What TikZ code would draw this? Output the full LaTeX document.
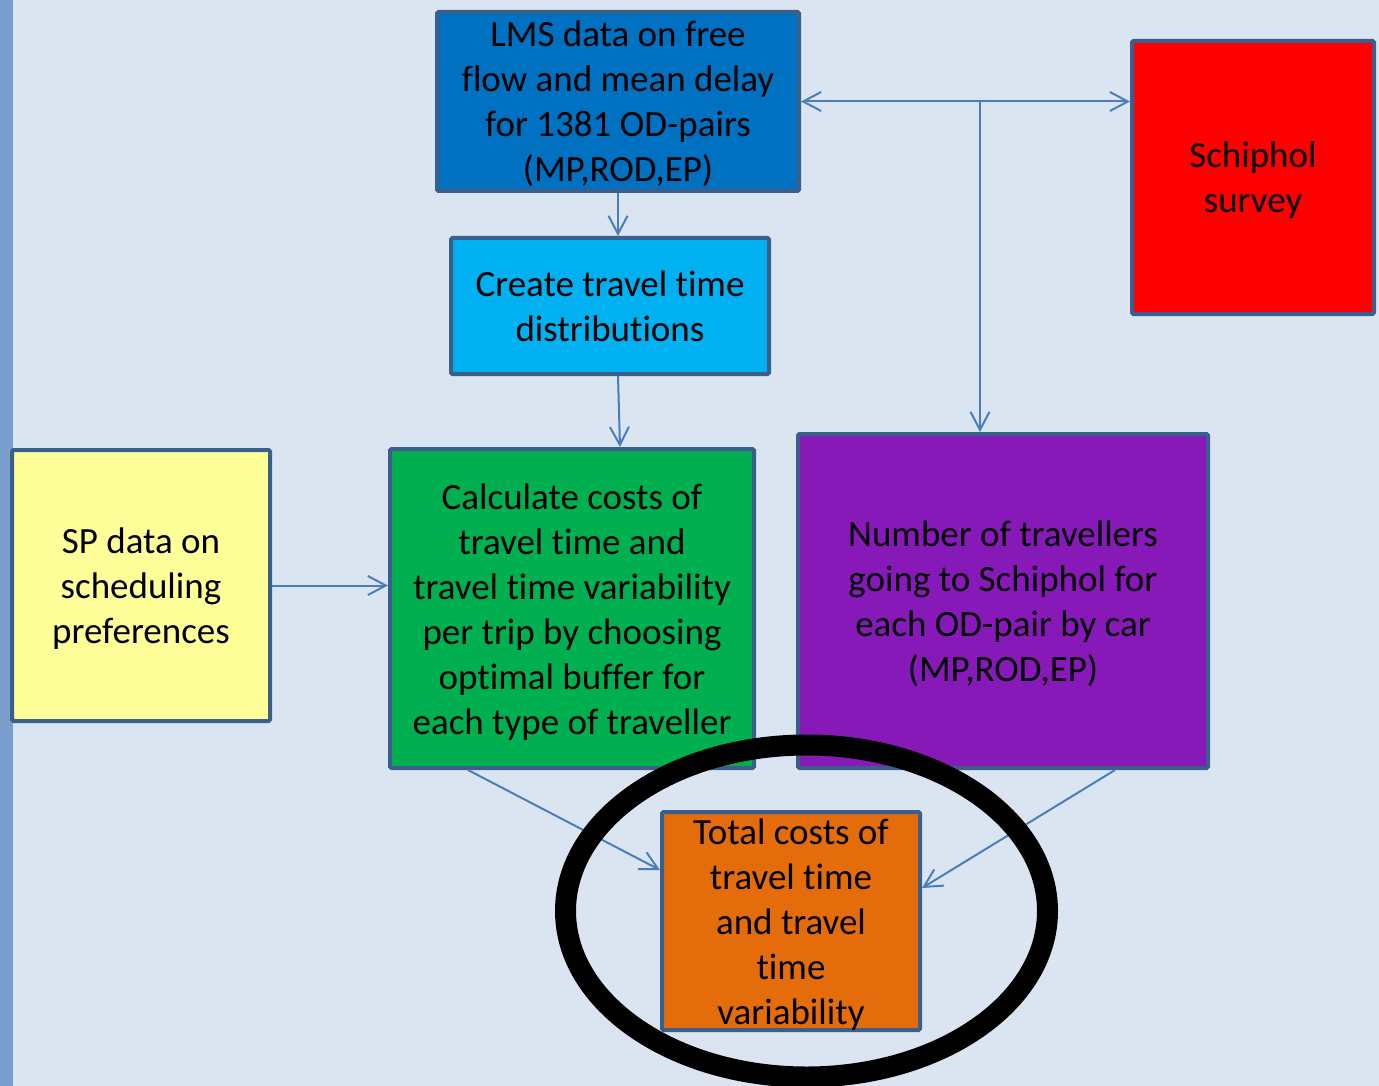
\documentclass[tikz,border=0pt]{standalone}
\usepackage{fontspec}
\setmainfont{Carlito}[Ligatures={NoCommon}]
\usetikzlibrary{arrows.meta,calc}

\definecolor{pagebg}{HTML}{DBE5F1}
\definecolor{stripe}{HTML}{7A9FCF}
\definecolor{boxedge}{HTML}{3A5F8B}
\definecolor{linkblue}{HTML}{4A7EBB}
\definecolor{lmsblue}{HTML}{0070C0}
\definecolor{skyblue}{HTML}{00B0F0}
\definecolor{surveyred}{HTML}{FF0000}
\definecolor{paleyellow}{HTML}{FFFF99}
\definecolor{calcgreen}{HTML}{00B050}
\definecolor{travpurple}{HTML}{8619B8}
\definecolor{totalorange}{HTML}{E46C0A}

\pgfdeclarelayer{ring}
\pgfdeclarelayer{top}
\pgfsetlayers{main,ring,top}

% centred block of lines, set a little low in its box; its declared size is
% trimmed so that a full box keeps its own height
\newcommand\lowtext[1]{\raisebox{-4pt}[\dimexpr\height-6pt\relax][\dimexpr\depth-6pt\relax]{\begin{tabular}{@{}c@{}}#1\end{tabular}}}

\tikzset{
  barb/.tip={Straight Barb[length=18pt,width=19pt]},
  box/.style={draw=boxedge, line width=4pt, rounded corners=1.5pt, inner sep=0pt,
    text=black, font=\fontsize{37}{45}\selectfont},
  link/.style={draw=linkblue, line width=2pt, -barb},
}

\begin{document}
\begin{tikzpicture}[x=1pt,y=-1pt]
  % page
  \useasboundingbox (0,0) rectangle (1379,1086);
  \fill[pagebg] (0,0) rectangle (1379,1086);
  \fill[stripe] (0,0) rectangle (12.5,1086);

  % process boxes
  \node[box, fill=lmsblue, minimum width=362pt, minimum height=179pt] (lms) at (618,101.5)
    {\lowtext{LMS data on free\\flow and mean delay\\for 1381 OD-pairs\\(MP,ROD,EP)}};
  \node[box, fill=skyblue, minimum width=318pt, minimum height=136pt] (create) at (610,306)
    {\lowtext{Create travel time\\distributions}};
  \node[box, fill=surveyred, minimum width=242pt, minimum height=273pt] (sch) at (1253,177.5)
    {\lowtext{Schiphol\\survey}};
  \node[box, fill=paleyellow, minimum width=258pt, minimum height=271pt] (sp) at (141,585.5)
    {\lowtext{SP data on\\scheduling\\preferences}};
  \node[box, fill=calcgreen, minimum width=364pt, minimum height=319pt] (calc) at (572,608.5)
    {\lowtext{Calculate costs of\\travel time and\\travel time variability\\per trip by choosing\\optimal buffer for\\each type of traveller}};
  \node[box, fill=travpurple, minimum width=410pt, minimum height=334pt] (trav) at (1003,601)
    {\lowtext{Number of travellers\\going to Schiphol for\\each OD-pair by car\\(MP,ROD,EP)}};
  \begin{pgfonlayer}{top}
    \node[box, fill=totalorange, minimum width=258pt, minimum height=218pt] (total) at (791,921)
      {\lowtext{Total costs of\\travel time\\and travel\\time\\variability}};
  \end{pgfonlayer}

  % connectors
  \coordinate (j) at (980,101.5);
  \draw[link] (lms.south) -- (lms.south |- create.north);
  \draw[link] ([xshift=8pt]create.south) -- ([xshift=48pt]calc.north);
  \draw[link] (sp.east) -- (sp.east -| calc.west);
  \draw[link, barb-barb] (lms.east) -- (lms.east -| sch.west);
  \draw[link] (j) -- (j |- trav.north);
  \draw[link] ([xshift=80pt]calc.south west) -- ([yshift=-60pt]total.north west);
  \draw[link] ([xshift=-95pt]trav.south east) -- ([yshift=-78pt]total.north east);

  % highlight ring
  \begin{pgfonlayer}{ring}
    \draw[black, line width=21pt] (806.5,911) ellipse (241pt and 166pt);
  \end{pgfonlayer}
\end{tikzpicture}
\end{document}
